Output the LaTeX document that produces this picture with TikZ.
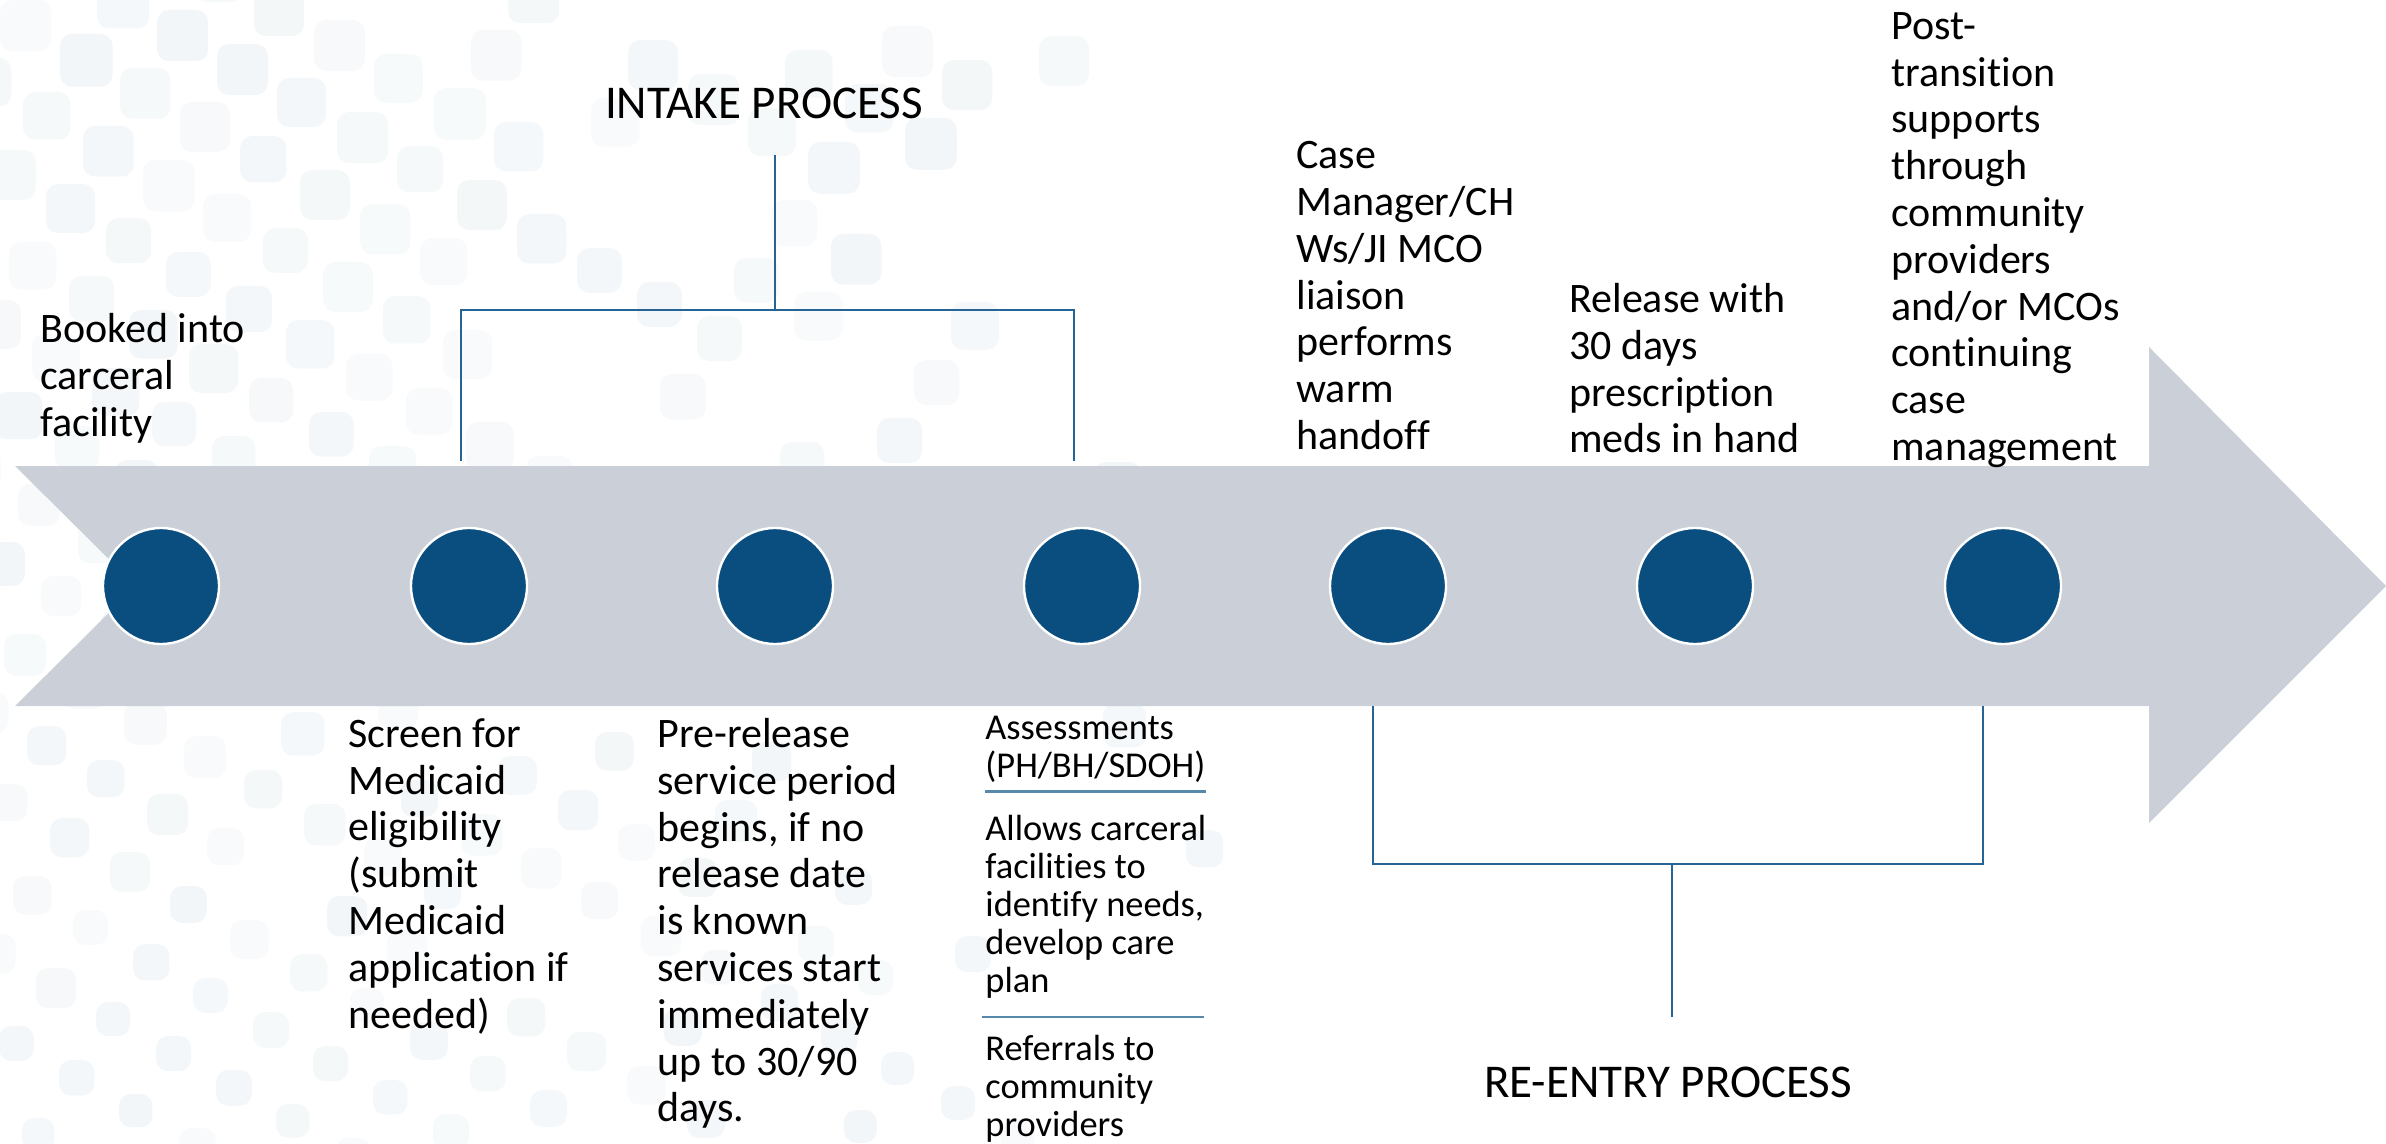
\documentclass[tikz,border=0pt]{standalone}
\usepackage{fontspec}
\setmainfont{Carlito}[Ligatures=NoCommon]
\definecolor{arrowgray}{RGB}{203,208,216}
\definecolor{dotblue}{RGB}{10,78,128}
\definecolor{linkblue}{RGB}{38,100,150}
\definecolor{rulelight}{RGB}{88,136,170}
\definecolor{tilegray}{RGB}{242,246,248}
\begin{document}
\begin{tikzpicture}[x=0.5pt, y=-0.5pt,
    dot/.style={circle, fill=dotblue, draw=white, line width=1.2pt, minimum size=58pt, inner sep=0},
    bigtext/.style={anchor=north west, inner sep=0, align=left, font=\fontsize{21}{23.4}\selectfont},
    smalltext/.style={anchor=north west, inner sep=0, align=left, font=\fontsize{18.2}{19}\selectfont},
    heading/.style={inner sep=0, font=\fontsize{23.5}{28}\selectfont},
    bracket/.style={linkblue, line width=1pt},
    divider/.style={rulelight, line width=1.4pt}]
    \useasboundingbox (0,0) rectangle (2386,1144);

    % Background tiles
    \pgfmathsetseed{42}
    \foreach \i in {0,...,24}{
      \foreach \j in {-14,...,18}{
        \pgfmathsetmacro{\tx}{\i*60+\j*37}
        \pgfmathsetmacro{\ty}{\i*34-\j*58}
        \pgfmathsetmacro{\keep}{and(and(\tx>-60,\tx<1300),and(\ty>-60,\ty<1150)) ? (rnd<(1.15-\tx/1100) ? 1 : 0) : 0}
        \ifdim\keep pt>0.5pt
          \pgfmathsetmacro{\op}{0.5+0.5*rnd}
          \pgfmathsetmacro{\sz}{54-\ty/70-6*rnd}
          \fill[tilegray, opacity=\op, rounded corners=6pt] (\tx,\ty) rectangle ++(\sz,\sz);
        \fi
      }}

    % Timeline arrow
    \fill[arrowgray] (15,466) -- (2149,466) -- (2149,347) -- (2386,586) -- (2149,823)
        -- (2149,706) -- (15,706) -- (136,586) -- cycle;

    % Milestones
    \foreach \k/\cx in {1/161,2/469,3/775,4/1082,5/1388,6/1695,7/2003}
        \node[dot] (c\k) at (\cx,586) {};

    % Labels above
    \node[bigtext] (booked) at (40,313) {Booked into\\carceral\\facility};
    \node[bigtext] (handoff) at (1296,141) {Case\\Manager/CH\\Ws/JI MCO\\liaison\\performs\\warm\\handoff};
    \node[bigtext] (release) at (1569,283) {Release with\\30 days\\prescription\\meds in hand};
    \node[bigtext] (post) at (1891,12) {Post-\\transition\\supports\\through\\community\\providers\\and/or MCOs\\continuing\\case\\management};

    % Labels below
    \node[bigtext] (screen) at (348,718) {Screen for\\Medicaid\\eligibility\\(submit\\Medicaid\\application if\\needed)};
    \node[bigtext] (prerel) at (657,718) {Pre-release\\service period\\begins, if no\\release date\\is known\\services start\\immediately\\up to 30/90\\days.};
    \node[smalltext] (assessA) at (985,716) {Assessments\\(PH/BH/SDOH)};
    \node[smalltext] (assessB) at (985,815) {Allows carceral\\facilities to\\identify needs,\\develop care\\plan};
    \node[smalltext] (assessC) at (985,1035) {Referrals to\\community\\providers};
    \draw[divider] ([yshift=-4pt]assessA.south west) -- ([yshift=-4pt]assessA.south east);
    \draw[divider] ([xshift=-1.5pt,yshift=9pt]assessC.north west) -- ([xshift=-1.5pt,yshift=9pt]assessC.north west -| assessB.east);

    % Intake bracket
    \node[heading] (intake) at (764,103) {INTAKE PROCESS};
    \coordinate (inT) at (775,155);
    \coordinate (inJ) at (775,310);
    \coordinate (inL) at (461,461);
    \coordinate (inR) at (1074,461);
    \draw[bracket] (inT) -- (inJ);
    \draw[bracket] (inL) |- (inJ) -| (inR);

    % Re-entry bracket
    \node[heading] (reentry) at (1668,1082) {RE-ENTRY PROCESS};
    \coordinate (reL) at (1373,706);
    \coordinate (reR) at (1983,706);
    \coordinate (reJ) at (1672,864);
    \coordinate (reB) at (1672,1017);
    \draw[bracket] (reL) |- (reJ) -| (reR);
    \draw[bracket] (reJ) -- (reB);
\end{tikzpicture}
\end{document}
